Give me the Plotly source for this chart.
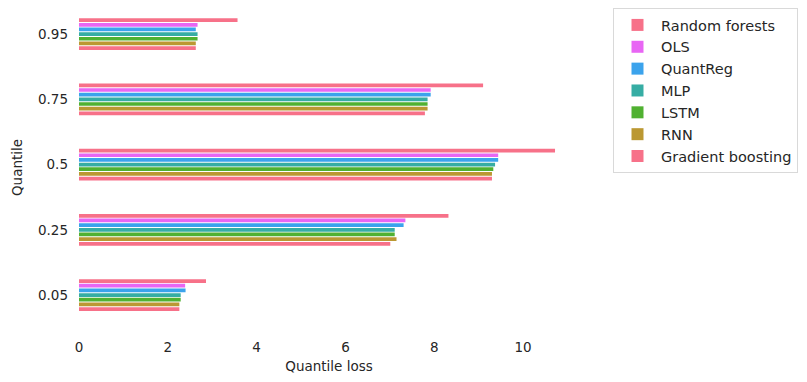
import plotly.graph_objects as go

quantiles = ['0.05', '0.25', '0.5', '0.75', '0.95']

# listed bottom-to-top as they sit inside each group
models = ['Gradient boosting', 'RNN', 'LSTM', 'MLP', 'QuantReg', 'OLS', 'Random forests']
colors = ['#f77189', '#bb9832', '#50b131', '#36ada4', '#3ba3ec', '#e866f4', '#f77189']

gradient_boosting = [2.26, 7.01, 9.30, 7.79, 2.63]
rnn = [2.26, 7.15, 9.30, 7.85, 2.63]
lstm = [2.29, 7.11, 9.33, 7.85, 2.67]
mlp = [2.29, 7.11, 9.37, 7.85, 2.67]
quantreg = [2.40, 7.31, 9.44, 7.92, 2.63]
ols = [2.39, 7.35, 9.44, 7.92, 2.67]
random_forests = [2.86, 8.32, 10.72, 9.10, 3.57]

series = [gradient_boosting, rnn, lstm, mlp, quantreg, ols, random_forests]

fig = go.Figure()
for name, vals, col in zip(models, series, colors):
    fig.add_trace(go.Bar(y=quantiles, x=vals, name=name, orientation='h',
                         marker_color=col, marker_line_width=0))

font = 'DejaVu Sans, sans-serif'
fig.update_layout(
    width=807, height=382,
    barmode='group', bargap=0.5, bargroupgap=0.2,
    plot_bgcolor='white', paper_bgcolor='white',
    margin=dict(l=71, r=236, t=0, b=63),
    font=dict(family=font, size=13.5, color='#262626'),
    xaxis=dict(range=[0, 11.26], tickvals=[0, 2, 4, 6, 8, 10], showgrid=False,
               zeroline=False, showline=False, ticks='', automargin=False,
               ticklabelstandoff=10,
               title=dict(text='Quantile loss', font=dict(size=13.5), standoff=8)),
    yaxis=dict(type='category', range=[-0.49, 4.4], showgrid=False, zeroline=False,
               showline=False, ticks='', ticklen=0, ticklabelstandoff=10, automargin=False,
               title=dict(text='Quantile', font=dict(size=13.5), standoff=12)),
    legend=dict(traceorder='reversed', x=1.068, y=1.0, xanchor='left', yanchor='top',
                bordercolor='#d9d9d9', borderwidth=1, font=dict(size=14.5),
                itemwidth=37, tracegroupgap=0),
)

fig.write_html("out.html")
